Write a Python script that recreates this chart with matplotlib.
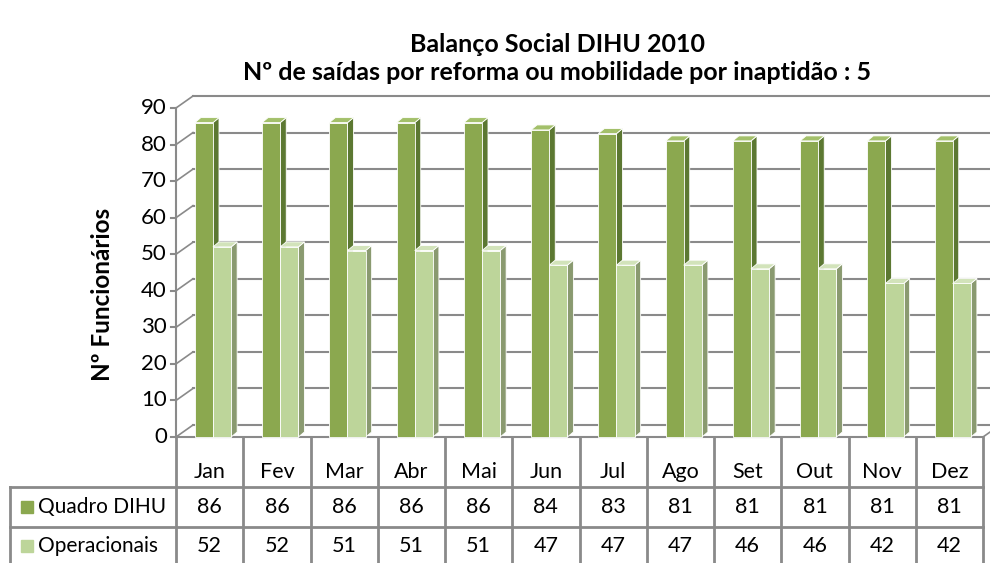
import matplotlib
matplotlib.use("Agg")
import matplotlib.pyplot as plt
from matplotlib.patches import Polygon
import numpy as np

plt.rcParams['font.family'] = ['Lato', 'DejaVu Sans']

months = ["Jan", "Fev", "Mar", "Abr", "Mai", "Jun", "Jul", "Ago", "Set", "Out", "Nov", "Dez"]
quadro = [86, 86, 86, 86, 86, 84, 83, 81, 81, 81, 81, 81]
operacionais = [52, 52, 51, 51, 51, 47, 47, 47, 46, 46, 42, 42]
series_names = ["Quadro DIHU", "Operacionais"]
yticks = list(range(0, 91, 10))

W, H = 990, 563
fig = plt.figure(figsize=(W / 100, H / 100), dpi=100)

def fx(px):
    return px / W

def fy(py):
    return 1 - py / H

# main axes geometry (pixels)
L, R, B, T = 176, 983, 437, 108
ax = fig.add_axes([fx(L), fy(B), fx(R) - fx(L), fy(T) - fy(B)])
ax.set_xlim(-0.5, 11.5)
ax.set_ylim(0, 90)
ax.axis('off')

pxu = (R - L) / 12.0
pyu = (B - T) / 90.0
bx, by = 17 / pxu, 12 / pyu       # back wall offset
dx, dy = 6 / pxu, 5 / pyu         # bar depth
grid_c = '#8a8a8a'

# back wall gridlines + left wall diagonals
for v in yticks:
    ax.plot([-0.5 + bx, 11.5 + bx + 0.5], [v + by, v + by], color=grid_c, lw=1.5,
            clip_on=False, zorder=1)
    ax.plot([-0.5, -0.5 + bx], [v, v + by], color=grid_c, lw=1.2, clip_on=False, zorder=1)
    ax.plot([-0.5 - 5 / pxu, -0.5], [v, v], color=grid_c, lw=1.5, clip_on=False, zorder=1)
# left axis line
ax.plot([-0.5, -0.5], [0, 90], color=grid_c, lw=1.5, clip_on=False, zorder=1)
# floor front edge and right diagonal
ax.plot([-0.5, 11.5], [0, 0], color=grid_c, lw=1.5, clip_on=False, zorder=1)
ax.plot([11.5, 11.5 + bx], [0, by], color=grid_c, lw=1.2, clip_on=False, zorder=1)

for m in yticks:
    ax.text(-0.5 - 9 / pxu, m, str(m), ha='right', va='center', fontsize=16, color='black')

ax.text(-0.5 - 73 / pxu, 45 - (294 - 272) / pyu, "Nº Funcionários", rotation=90, ha='center',
        va='center', fontsize=17.5, fontweight='bold')

colors = [
    dict(front='#8BA84F', side='#5C7832', top='#A3C06A'),
    dict(front='#BDD59A', side='#8A9A70', top='#D2E3BA'),
]
offsets = [-0.22, 0.05]
bw = 0.27
x = np.arange(len(months))
for s, (vals, off, c) in enumerate(zip([quadro, operacionais], offsets, colors)):
    for xi, v in zip(x, vals):
        x0 = xi + off
        side = Polygon([(x0 + bw, 0), (x0 + bw + dx, dy), (x0 + bw + dx, v + dy), (x0 + bw, v)],
                       closed=True, facecolor=c['side'], edgecolor='white', lw=0.6,
                       zorder=3 + s, clip_on=False)
        top = Polygon([(x0, v), (x0 + dx, v + dy), (x0 + bw + dx, v + dy), (x0 + bw, v)],
                      closed=True, facecolor=c['top'], edgecolor='white', lw=0.6,
                      zorder=3 + s, clip_on=False)
        ax.add_patch(side)
        ax.add_patch(top)
    ax.bar(x + off, vals, width=bw, align='edge', color=c['front'], edgecolor='white',
           linewidth=0.6, zorder=3 + s, clip_on=False)

# title
fig.text(fx(557), fy(45), "Balanço Social DIHU 2010", ha='center', va='center',
         fontsize=18, fontweight='bold')
fig.text(fx(557), fy(72), "Nº de saídas por reforma ou mobilidade por inaptidão : 5",
         ha='center', va='center', fontsize=18, fontweight='bold')

# data table
TL = 10
tax = fig.add_axes([fx(TL), 0, fx(R) - fx(TL), fy(B)])
xl = -0.5 - (L - TL) / pxu
tax.set_xlim(xl, 11.5)
tax.set_ylim(126, 0)
tax.axis('off')
tc = '#8a8a8a'
for k in range(13):
    tax.plot([-0.5 + k, -0.5 + k], [0, 130], color=tc, lw=2, clip_on=False)
tax.plot([xl, xl], [50, 130], color=tc, lw=2, clip_on=False)
for yy in [50, 90]:
    tax.plot([xl, 11.5], [yy, yy], color=tc, lw=2, clip_on=False)
for i, m in enumerate(months):
    tax.text(i, 35, m, ha='center', va='center', fontsize=15.5)
    tax.text(i, 70, str(quadro[i]), ha='center', va='center', fontsize=15.5)
    tax.text(i, 109, str(operacionais[i]), ha='center', va='center', fontsize=15.5)
for name, c, yy in zip(series_names, colors, [70, 109]):
    tax.plot([xl + (26.5 - TL) / pxu], [yy], marker='s', markersize=8, color=c['front'],
             clip_on=False, linestyle='none')
    tax.text(xl + (38 - TL) / pxu, yy, name, ha='left', va='center', fontsize=15)

fig.savefig("out.png", dpi=100)
